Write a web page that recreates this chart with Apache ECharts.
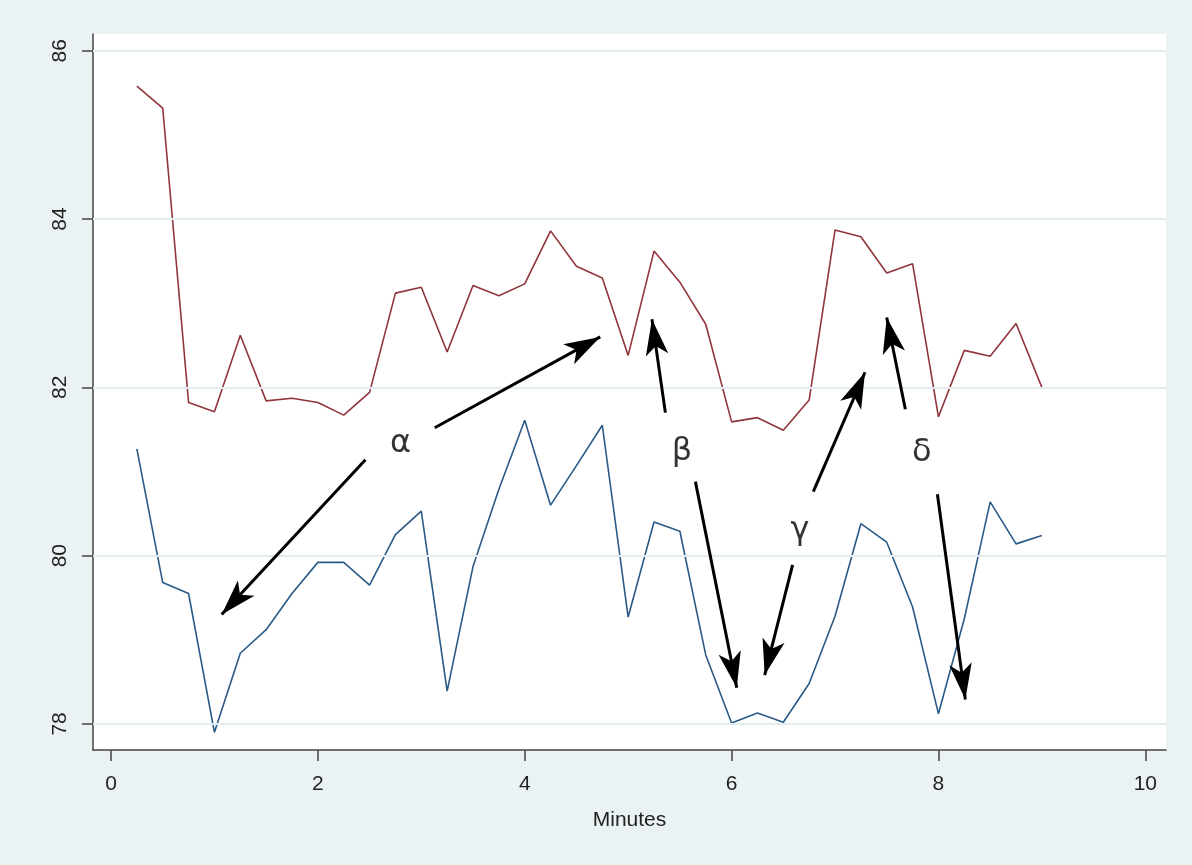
<!DOCTYPE html>
<html>
<head>
<meta charset="utf-8">
<script src="https://cdn.jsdelivr.net/npm/echarts@6/dist/echarts.min.js"></script>
<style>
  html, body { margin: 0; padding: 0; background: #eaf2f3; }
  #chart { width: 1192px; height: 865px; }
</style>
</head>
<body>
<div id="chart"></div>
<script>
// minutes, every quarter minute
var minutes = [0.25, 0.5, 0.75, 1, 1.25, 1.5, 1.75, 2, 2.25, 2.5, 2.75, 3,
  3.25, 3.5, 3.75, 4, 4.25, 4.5, 4.75, 5, 5.25, 5.5, 5.75, 6,
  6.25, 6.5, 6.75, 7, 7.25, 7.5, 7.75, 8, 8.25, 8.5, 8.75, 9];

var redValues = [85.58, 85.32, 81.82, 81.71, 82.62, 81.84, 81.87, 81.82, 81.67, 81.94, 83.12, 83.19,
  82.42, 83.21, 83.09, 83.23, 83.86, 83.44, 83.30, 82.38, 83.62, 83.25, 82.75, 81.59,
  81.64, 81.49, 81.85, 83.87, 83.79, 83.36, 83.47, 81.65, 82.44, 82.37, 82.76, 82.00];

var blueValues = [81.27, 79.68, 79.55, 77.90, 78.84, 79.12, 79.55, 79.92, 79.92, 79.65, 80.25, 80.53,
  78.39, 79.87, 80.79, 81.61, 80.60, 81.07, 81.55, 79.27, 80.40, 80.29, 78.82, 78.01,
  78.13, 78.02, 78.48, 79.28, 80.38, 80.16, 79.39, 78.12, 79.25, 80.64, 80.14, 80.24];

var xTicks = [0, 2, 4, 6, 8, 10];
var yTicks = [78, 80, 82, 84, 86];

// greek labels and their arrows (data coordinates)
var labelText = ['α', 'β', 'γ', 'δ'];
var labelX = [2.80, 5.52, 6.66, 7.84];
var labelY = [81.33, 81.24, 80.30, 81.22];
var arrowFrom = [[3.13, 81.52], [2.46, 81.14], [5.36, 81.70], [5.65, 80.88],
  [6.79, 80.76], [6.59, 79.89], [7.68, 81.74], [7.99, 80.73]];
var arrowTo = [[4.73, 82.60], [1.07, 79.30], [5.23, 82.81], [6.05, 78.43],
  [7.29, 82.18], [6.32, 78.58], [7.50, 82.83], [8.26, 78.29]];

var chart = echarts.init(document.getElementById('chart'));

var arrows = arrowFrom.map(function (p, i) {
  return [{ coord: p, symbol: 'none' }, { coord: arrowTo[i], symbol: 'arrow', symbolSize: [17, 36] }];
});

var option = {
  backgroundColor: '#eaf2f3',
  animation: false,
  grid: {
    left: 93, right: 26, top: 34, bottom: 115,
    show: true, backgroundColor: '#ffffff', borderWidth: 0
  },
  xAxis: {
    type: 'value',
    min: -0.174, max: 10.2,
    name: 'Minutes', nameLocation: 'middle', nameGap: 60,
    nameTextStyle: { fontFamily: 'Liberation Sans', fontSize: 21, color: '#222' },
    axisLine: { show: true, onZero: false, lineStyle: { color: '#444', width: 1.5 } },
    axisTick: { show: true, length: 11, customValues: xTicks, lineStyle: { color: '#444', width: 1.5 } },
    axisLabel: { customValues: xTicks, fontFamily: 'Liberation Sans', fontSize: 21, color: '#222', margin: 24 },
    splitLine: { show: false }
  },
  yAxis: {
    type: 'value',
    min: 77.69, max: 86.2,
    axisLine: { show: true, onZero: false, lineStyle: { color: '#444', width: 1.5 } },
    axisTick: { show: true, length: 11, customValues: yTicks, lineStyle: { color: '#444', width: 1.5 } },
    axisLabel: { customValues: yTicks, rotate: 90, fontFamily: 'Liberation Sans', fontSize: 21, color: '#222', margin: 22 },
    splitLine: { show: false }
  },
  series: [
    {
      type: 'line',
      name: 'grid',
      data: [],
      silent: true,
      markLine: {
        symbol: 'none',
        silent: true,
        label: { show: false },
        lineStyle: { color: '#e3ecee', width: 2, type: 'solid' },
        data: yTicks.map(function (v) { return { yAxis: v }; })
      }
    },
    {
      type: 'line',
      name: 'red',
      data: minutes.map(function (m, i) { return [m, redValues[i]]; }),
      showSymbol: false,
      lineStyle: { color: '#90353b', width: 1.6 },
      itemStyle: { color: '#90353b' }
    },
    {
      type: 'line',
      name: 'blue',
      data: minutes.map(function (m, i) { return [m, blueValues[i]]; }),
      showSymbol: false,
      lineStyle: { color: '#2a5a86', width: 1.6 },
      itemStyle: { color: '#2a5a86' }
    },
    {
      type: 'line',
      name: 'arrows',
      data: [],
      silent: true,
      markLine: {
        silent: true,
        symbol: ['none', 'arrow'],
        symbolSize: 22,
        label: { show: false },
        itemStyle: { color: '#000' },
        lineStyle: { color: '#000', width: 3, type: 'solid' },
        data: arrows
      }
    },
    {
      type: 'scatter',
      name: 'labels',
      symbolSize: 0,
      data: labelText.map(function (t, i) { return { name: t, value: [labelX[i], labelY[i]] }; }),
      label: {
        show: true, position: 'inside', formatter: '{b}',
        fontFamily: 'DejaVu Sans', fontSize: 32, color: '#000',
        textBorderWidth: 0
      },
      silent: true
    }
  ]
};

option && chart.setOption(option);
</script>
</body>
</html>
